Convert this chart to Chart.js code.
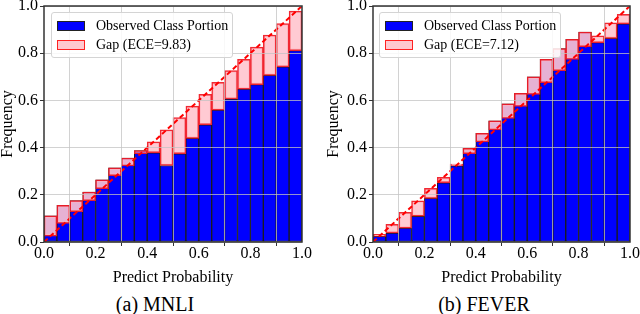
<!DOCTYPE html>
<html>
<head>
<meta charset="utf-8">
<script src="https://cdn.jsdelivr.net/npm/chart.js@4/dist/chart.umd.min.js"></script>
<style>
  html, body { margin: 0; padding: 0; background: #fff; }
  body { width: 640px; height: 314px; position: relative; overflow: hidden; font-family: "Liberation Serif", "Times New Roman", serif; }
  canvas { position: absolute; }
  .legend { position: absolute; width: 180px; height: 44px; border: 1px solid #d4d4d4; border-radius: 3px; background: rgba(255,255,255,0.85); font-size: 14px; color: #000; }
  .row { position: absolute; left: 5px; height: 20px; line-height: 20px; white-space: nowrap; }
  .sw { display: inline-block; box-sizing: border-box; width: 28px; height: 10px; vertical-align: middle; margin-right: 11px; position: relative; top: -1px; }
  .caption { position: absolute; top: 292px; height: 24px; line-height: 24px; font-size: 20px; text-align: center; width: 200px; }
</style>
</head>
<body>
<canvas id="mnli" width="324" height="300" style="left:-4px; top:-10px;"></canvas>
<canvas id="fever" width="330" height="300" style="left:320px; top:-10px;"></canvas>

<div class="legend" style="left:51px; top:12px;">
  <div class="row" style="top:3px;"><span class="sw" style="background:#0000ff; border:1.5px solid #222;"></span>Observed Class Portion</div>
  <div class="row" style="top:22px;"><span class="sw" style="background:#ffc8cf; border:1.5px solid #f22;"></span><span id="gapA"></span></div>
</div>
<div class="legend" style="left:379px; top:12px;">
  <div class="row" style="top:3px;"><span class="sw" style="background:#0000ff; border:1.5px solid #222;"></span>Observed Class Portion</div>
  <div class="row" style="top:22px;"><span class="sw" style="background:#ffc8cf; border:1.5px solid #f22;"></span><span id="gapB"></span></div>
</div>

<div class="caption" style="left:55px;">(a) MNLI</div>
<div class="caption" style="left:384px;">(b) FEVER</div>

<script>
// bin centres (20 bins of width 0.05)
const binCenters = [0.025, 0.075, 0.125, 0.175, 0.225, 0.275, 0.325, 0.375, 0.425, 0.475,
                    0.525, 0.575, 0.625, 0.675, 0.725, 0.775, 0.825, 0.875, 0.925, 0.975];

// MNLI
const mnliAccuracy   = [0.111, 0.155, 0.175, 0.212, 0.263, 0.314, 0.356, 0.387, 0.378, 0.324,
                        0.374, 0.439, 0.497, 0.559, 0.606, 0.648, 0.667, 0.706, 0.742, 0.811];
const mnliConfidence = [0.025, 0.079, 0.128, 0.175, 0.226, 0.281, 0.322, 0.374, 0.424, 0.475,
                        0.527, 0.576, 0.626, 0.677, 0.726, 0.774, 0.826, 0.877, 0.925, 0.978];
const mnliECE = "9.83";

// FEVER
const feverAccuracy   = [0.024, 0.038, 0.059, 0.109, 0.185, 0.251, 0.323, 0.397, 0.460, 0.513,
                         0.585, 0.630, 0.700, 0.774, 0.820, 0.859, 0.890, 0.845, 0.863, 0.924];
const feverConfidence = [0.033, 0.075, 0.126, 0.174, 0.227, 0.274, 0.330, 0.374, 0.424, 0.475,
                         0.524, 0.575, 0.625, 0.675, 0.726, 0.774, 0.828, 0.874, 0.929, 0.965];
const feverECE = "7.12";

// perfect calibration line
const diagonal = [0, 1];

document.getElementById("gapA").textContent = "Gap (ECE=" + mnliECE + ")";
document.getElementById("gapB").textContent = "Gap (ECE=" + feverECE + ")";

const serif = "'Liberation Serif', 'Times New Roman', serif";

// frame round the plot (matplotlib style box)
const framePlugin = {
  id: "frame",
  afterDraw(chart) {
    const a = chart.chartArea;
    const ctx = chart.ctx;
    ctx.save();
    ctx.strokeStyle = "#333";
    ctx.lineWidth = 1.5;
    ctx.strokeRect(a.left, a.top, a.right - a.left, a.bottom - a.top);
    ctx.restore();
  }
};

function makeChart(id, acc, conf, yWidth, padRight, titlePad) {
  var ctx = document.getElementById(id);
  return new Chart(ctx, {
    type: "bar",
    data: {
      datasets: [
        {
          type: "line",
          data: diagonal.map((v) => ({ x: v, y: v })),
          borderColor: "#ff0000",
          borderWidth: 2,
          borderDash: [5, 3],
          pointRadius: 0,
          fill: false,
        },
        {
          label: "Gap",
          data: binCenters.map((x, i) => ({ x: x, y: [acc[i], conf[i]] })),
          backgroundColor: "rgba(255,196,206,0.9)",
          borderColor: "rgba(240,30,40,0.95)",
          borderWidth: 1.5,
          borderSkipped: false,
          grouped: false,
          barPercentage: 1,
          categoryPercentage: 1,
        },
        {
          label: "Observed Class Portion",
          data: binCenters.map((x, i) => ({ x: x, y: acc[i] })),
          backgroundColor: "#0000ff",
          borderColor: "#1c1c1c",
          borderWidth: 1,
          borderSkipped: false,
          grouped: false,
          barPercentage: 1,
          categoryPercentage: 1,
        },
      ],
    },
    options: {
      responsive: false,
      animation: false,
      devicePixelRatio: 1,
      layout: { padding: { left: 0, top: 16, right: padRight, bottom: 0 } },
      plugins: { legend: { display: false }, tooltip: { enabled: false } },
      scales: {
        x: {
          type: "linear",
          min: 0,
          max: 1,
          offset: false,
          afterFit: (s) => { s.height = 48; },
          ticks: {
            stepSize: 0.2,
            maxRotation: 0,
            padding: -2,
            color: "#000",
            font: { family: serif, size: 16 },
            callback: (v) => v.toFixed(1),
          },
          grid: {
            z: 1,
            color: "rgba(195,195,195,0.75)",
            borderDash: [3, 2],
            tickColor: "#333",
            tickLength: 4,
            tickBorderDash: [],
          },
          border: { display: false },
          title: {
            display: true,
            text: "Predict Probability",
            color: "#000",
            font: { family: serif, size: 16 },
            padding: { top: 0, bottom: 3 },
          },
        },
        y: {
          min: 0,
          max: 1,
          afterFit: (s) => { s.width = yWidth; },
          ticks: {
            stepSize: 0.2,
            padding: 2,
            color: "#000",
            font: { family: serif, size: 16 },
            callback: (v) => v.toFixed(1),
          },
          grid: {
            z: 1,
            color: "rgba(195,195,195,0.75)",
            borderDash: [3, 2],
            tickColor: "#333",
            tickLength: 4,
            tickBorderDash: [],
          },
          border: { display: false },
          title: {
            display: true,
            text: "Frequency",
            color: "#000",
            font: { family: serif, size: 16 },
            padding: { top: titlePad, bottom: 0 },
          },
        },
      },
    },
    plugins: [framePlugin],
  });
}

// ------------------------------ charts ------------------------------
makeChart("mnli", mnliAccuracy, mnliConfidence, 48, 18, 2);
makeChart("fever", feverAccuracy, feverConfidence, 53, 20, 4);
</script>
</body>
</html>
